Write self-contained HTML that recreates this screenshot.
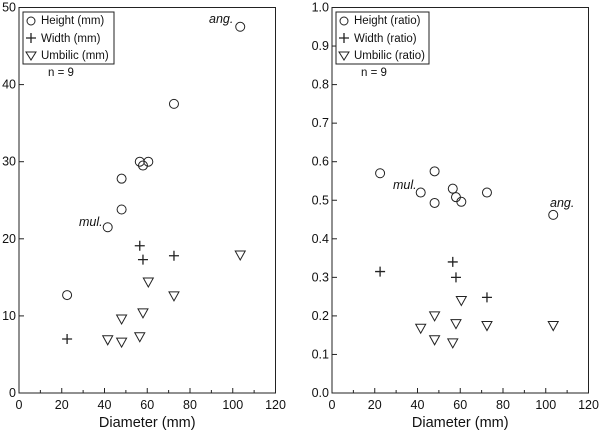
<!DOCTYPE html>
<html><head><meta charset="utf-8"><style>
body{margin:0;background:#fff}
svg text{font-family:"Liberation Sans",Arial,sans-serif;fill:#111}
</style></head><body>
<svg id="c" width="602" height="433" xmlns="http://www.w3.org/2000/svg"></svg>
<script>
const diam=[22.5,41.5,48,48,56.5,58,60.5,72.5,103.5];
const heightMm=[12.7,21.5,23.8,27.8,30,29.5,30,37.5,47.5];
const widthDiam=[22.5,56.5,58,72.5];
const widthMm=[7,19.1,17.3,17.8];
const umbDiam=[41.5,48,48,56.5,58,60.5,72.5,103.5];
const umbMm=[6.9,6.6,9.6,7.3,10.4,14.4,12.6,17.9];
const heightRatio=[0.57,0.52,0.493,0.575,0.53,0.508,0.496,0.52,0.462];
const widthRatio=[0.315,0.34,0.30,0.248];
const umbRatio=[0.168,0.138,0.20,0.13,0.18,0.24,0.175,0.175];
const xTicks=[0,20,40,60,80,100,120];
const yTicksL=[0,10,20,30,40,50];
const yTicksR=["0.0","0.1","0.2","0.3","0.4","0.5","0.6","0.7","0.8","0.9","1.0"];
const svg=document.getElementById('c');
const NS='http://www.w3.org/2000/svg';
function el(t,a,p){const e=document.createElementNS(NS,t);for(const k in a)e.setAttribute(k,a[k]);(p||svg).appendChild(e);return e;}
function panel(L,R,T,B,ymax,yt,yfmt,H,W,U,unit,name,annot){
  const g=el('g',{});
  
  
  const sx=v=>L+(v-0)/120*(R-L), sy=v=>B-v/ymax*(B-T);
  const fr=el('rect',{x:L,y:T,width:R-L,height:B-T,fill:'none',stroke:'#222','stroke-width':1},g);
  
  for(let v=0;v<=120;v+=10){const x=sx(v);el('line',{x1:x,x2:x,y1:B,y2:B-(v%20?3:5),stroke:'#222'},g);}
  xTicks.forEach(v=>{const t=el('text',{x:sx(v),y:B+16,'font-size':12.5,'text-anchor':'middle'},g);t.textContent=v;
    });
  yt.forEach(v=>{const y=sy(+v);el('line',{x1:L,x2:L+5,y1:y,y2:y,stroke:'#222'},g);
    const t=el('text',{x:L-3,y:y+4,'font-size':12.5,'text-anchor':'end'},g);t.textContent=v;
    });
  const xt=el('text',{x:(L+R)/2,y:427,'font-size':14.5,'text-anchor':'middle'},g);xt.textContent='Diameter (mm)';
  
  const circ=(x,y)=>{const c=el('circle',{cx:x,cy:y,r:4.5,fill:'none',stroke:'#222','stroke-width':1},g);
    };
  const plus=(x,y)=>{const p=el('path',{d:`M${x-5} ${y}H${x+5}M${x} ${y-5}V${y+5}`,stroke:'#222','stroke-width':1.3},g);
    };
  const tri=(x,y)=>{const p=el('path',{d:`M${x-5} ${y-4}H${x+5}L${x} ${y+5}Z`,fill:'none',stroke:'#222'},g);
    };
  diam.forEach((d,i)=>circ(sx(d),sy(H[i])));
  widthDiam.forEach((d,i)=>plus(sx(d),sy(W[i])));
  umbDiam.forEach((d,i)=>tri(sx(d),sy(U[i])));
  annot.forEach(a=>{const t=el('text',{x:a[0],y:a[1],'font-size':12.5,'font-style':'italic'},g);t.textContent=a[2];
    });
  const lx=L+4, lw=unit==='mm'?91:93;
  const lg=el('g',{},g);
  el('rect',{x:lx,y:12,width:lw,height:52,fill:'#fff',stroke:'#222'},lg);
  el('circle',{cx:lx+8,cy:21,r:4,fill:'none',stroke:'#222'},lg);
  el('path',{d:`M${lx+3} 38H${lx+13}M${lx+8} 33V43`,stroke:'#222','stroke-width':1.3},lg);
  el('path',{d:`M${lx+3} 52H${lx+13}L${lx+8} 60Z`,fill:'none',stroke:'#222'},lg);
  [['Height',24],['Width',42],['Umbilic',59]].forEach(r=>{const t=el('text',{x:lx+18,y:r[1],'font-size':11.5},lg);t.textContent=r[0]+' ('+unit+')';
    });
  const n=el('text',{x:L+29,y:76,'font-size':11.5},g);n.textContent='n = 9';
  
}
panel(19,275.5,7.5,393,50,yTicksL,null,heightMm,widthMm,umbMm,'mm','left-panel',[[209,23,'ang.'],[79,226,'mul.']]);
panel(332,588.5,7.5,393,1,yTicksR,null,heightRatio,widthRatio,umbRatio,'ratio','right-panel',[[550,207,'ang.'],[393,189,'mul.']]);
</script>
</body></html>
